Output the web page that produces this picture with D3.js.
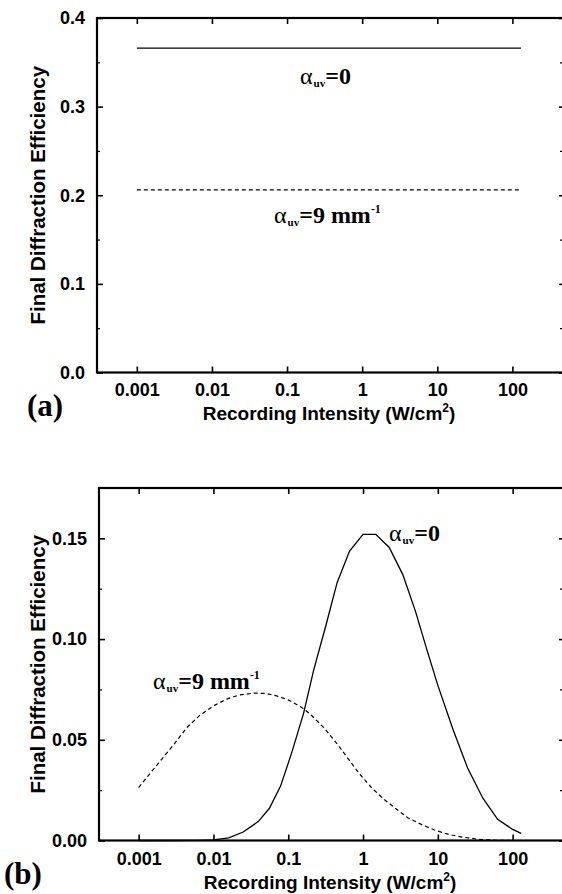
<!DOCTYPE html>
<html><head><meta charset="utf-8">
<script src="https://cdn.jsdelivr.net/npm/d3@7"></script>
<style>body{margin:0;background:#fff}svg{display:block}</style></head>
<body>
<script>
// ---- data ----
const xTickValues = [0.001, 0.01, 0.1, 1, 10, 100];
const xTickLabels = ["0.001", "0.01", "0.1", "1", "10", "100"];

// panel (a)
const aYTicks = [0, 0.1, 0.2, 0.3, 0.4];
const aYTickLabels = ["0.0", "0.1", "0.2", "0.3", "0.4"];
const aYMinor = [0.05, 0.15, 0.25, 0.35];
const aX = [0.001, 0.01, 0.1, 1, 10, 100, 130];
const aSolid = [0.366, 0.366, 0.366, 0.366, 0.366, 0.366, 0.366];
const aDashed = [0.206, 0.206, 0.206, 0.206, 0.206, 0.206, 0.206];

// panel (b)
const bYTicks = [0, 0.05, 0.10, 0.15];
const bYTickLabels = ["0.00", "0.05", "0.10", "0.15"];
const bYMinor = [0.025, 0.075, 0.125];
const bSolidX = [0.001, 0.0025, 0.006, 0.01, 0.016, 0.025, 0.04, 0.056, 0.079, 0.11, 0.16, 0.22, 0.32, 0.45, 0.66, 1.0, 1.48, 2.24, 3.4, 5.0, 7.1, 10, 16, 25, 40, 63, 100, 130];
const bSolidY = [0, 0, 0.0001, 0.0003, 0.0013, 0.0042, 0.0095, 0.016, 0.027, 0.043, 0.063, 0.085, 0.107, 0.128, 0.1437, 0.152, 0.152, 0.1455, 0.132, 0.114, 0.095, 0.077, 0.055, 0.036, 0.021, 0.0105, 0.0055, 0.0035];
const bDashedX = [0.001, 0.0014, 0.002, 0.003, 0.0044, 0.0065, 0.01, 0.015, 0.022, 0.035, 0.05, 0.07, 0.1, 0.15, 0.2, 0.3, 0.45, 0.65, 0.9, 1.3, 1.9, 2.7, 4, 6, 9, 14, 22, 35, 60, 100];
const bDashedY = [0.0263, 0.0330, 0.0400, 0.0480, 0.0560, 0.0620, 0.0668, 0.0702, 0.0722, 0.0732, 0.0730, 0.0718, 0.0698, 0.0662, 0.0625, 0.0560, 0.0480, 0.0400, 0.0330, 0.0262, 0.0205, 0.0160, 0.0112, 0.0080, 0.0052, 0.0030, 0.0016, 0.0006, 0.0001, 0.0];

const svg = d3.select("body").append("svg").attr("width", 562).attr("height", 894);
const SANS = "'Liberation Sans', Arial, sans-serif";
const SERIF = "'Liberation Serif', 'Times New Roman', serif";

function panel(cfg) {
  const x = d3.scaleLog().domain([Math.pow(10, -3.53), Math.pow(10, 2.70)]).range([cfg.left, cfg.right]);
  const y = d3.scaleLinear().domain(cfg.yDomain).range([cfg.bottom, cfg.top]);
  const g = svg.append("g");

  // bottom axis
  const bx = g.append("g").attr("transform", `translate(0,${cfg.bottom})`)
    .call(d3.axisBottom(x).tickValues(xTickValues).tickSize(-6).tickFormat((d, i) => xTickLabels[i]).tickPadding(0));
  bx.select(".domain").remove();
  bx.selectAll("line").attr("stroke-width", 1.6);
  bx.selectAll("text").attr("y", cfg.xLabelOffset).attr("dy", 0)
    .attr("font-family", SANS).attr("font-weight", "bold").attr("font-size", 18).attr("fill", "#000");
  // top axis
  const tx = g.append("g").attr("transform", `translate(0,${cfg.top})`)
    .call(d3.axisTop(x).tickValues(xTickValues).tickSize(-6).tickFormat(""));
  tx.select(".domain").remove();
  tx.selectAll("line").attr("stroke-width", 1.6);

  // left axis
  const ly = g.append("g").attr("transform", `translate(${cfg.left},0)`)
    .call(d3.axisLeft(y).tickValues(cfg.yTicks).tickSize(-6).tickFormat((d, i) => cfg.yLabels[i]).tickPadding(12));
  ly.select(".domain").remove();
  ly.selectAll("line").attr("stroke-width", 1.6);
  ly.selectAll("text").attr("font-family", SANS).attr("font-weight", "bold").attr("font-size", 18).attr("fill", "#000");
  const lym = g.append("g").attr("transform", `translate(${cfg.left},0)`)
    .call(d3.axisLeft(y).tickValues(cfg.yMinor).tickSize(-3).tickFormat(""));
  lym.select(".domain").remove();
  lym.selectAll("line").attr("stroke-width", 1.2);
  // right axis
  const ry = g.append("g").attr("transform", `translate(${cfg.right},0)`)
    .call(d3.axisRight(y).tickValues(cfg.yTicks).tickSize(-6).tickFormat(""));
  ry.select(".domain").remove();
  ry.selectAll("line").attr("stroke-width", 1.6);
  const rym = g.append("g").attr("transform", `translate(${cfg.right},0)`)
    .call(d3.axisRight(y).tickValues(cfg.yMinor).tickSize(-5).tickFormat(""));
  rym.select(".domain").remove();
  rym.selectAll("line").attr("stroke-width", 1.2);

  // frame
  g.append("rect").attr("x", cfg.left).attr("y", cfg.top)
    .attr("width", cfg.right - cfg.left).attr("height", cfg.bottom - cfg.top)
    .attr("fill", "none").attr("stroke", "#000").attr("stroke-width", 2.2);

  // lines
  const line = d3.line().x(d => x(d[0])).y(d => y(d[1]));
  g.append("path").datum(cfg.solidX.map((v, i) => [v, cfg.solidY[i]]))
    .attr("d", line).attr("fill", "none").attr("stroke", "#000").attr("stroke-width", 1.3);
  g.append("path").datum(cfg.dashX.map((v, i) => [v, cfg.dashY[i]]))
    .attr("d", line).attr("fill", "none").attr("stroke", "#000").attr("stroke-width", 1.2)
    .attr("stroke-dasharray", "4,3");

  // axis titles
  g.append("text").attr("x", (cfg.left + cfg.right) / 2 - 2).attr("y", cfg.xTitleY)
    .attr("text-anchor", "middle").attr("font-family", SANS).attr("font-weight", "bold").attr("font-size", 19)
    .call(t => {
      t.append("tspan").text("Recording Intensity (W/cm");
      t.append("tspan").text("2").attr("font-size", 12).attr("dy", -8);
      t.append("tspan").text(")").attr("dy", 8);
    });
  g.append("text").attr("transform", `translate(${cfg.yTitleX},${(cfg.top + cfg.bottom) / 2}) rotate(-90)`)
    .attr("text-anchor", "middle").attr("font-family", SANS).attr("font-weight", "bold").attr("font-size", 20.5)
    .text("Final Diffraction Efficiency");

  // panel letter
  g.append("text").attr("x", cfg.letterX).attr("y", cfg.letterY)
    .attr("font-family", SERIF).attr("font-weight", "bold").attr("font-size", 31).text(cfg.letter);

  // annotations
  function alpha(xp, yp, tail, sup) {
    const t = g.append("text").attr("x", xp).attr("y", yp).attr("font-family", SERIF).attr("font-size", 24);
    t.append("tspan").text("α");
    t.append("tspan").text("uv").attr("font-size", 11).attr("font-weight", "bold").attr("dy", 3).attr("dx", 1);
    t.append("tspan").text(tail).attr("font-weight", "bold").attr("dy", -3);
    if (sup) t.append("tspan").text(sup).attr("font-size", 12).attr("font-weight", "bold").attr("dy", -10);
  }
  cfg.ann.forEach(a => alpha(a[0], a[1], a[2], a[3]));
}

panel({
  left: 97, right: 565, top: 18, bottom: 372.5, yDomain: [0, 0.4],
  yTicks: aYTicks, yLabels: aYTickLabels, yMinor: aYMinor,
  solidX: aX, solidY: aSolid, dashX: aX, dashY: aDashed,
  xLabelOffset: 23.5, xTitleY: 420, yTitleX: 45, letter: "(a)", letterX: 27, letterY: 416,
  ann: [[300, 84, "=0", null], [274, 223, "=9 mm", "-1"]]
});
panel({
  left: 99, right: 565, top: 488, bottom: 840.5, yDomain: [0, 0.175],
  yTicks: bYTicks, yLabels: bYTickLabels, yMinor: bYMinor,
  solidX: bSolidX, solidY: bSolidY, dashX: bDashedX, dashY: bDashedY,
  xLabelOffset: 24.5, xTitleY: 889, yTitleX: 45, letter: "(b)", letterX: 4, letterY: 884,
  ann: [[389, 541, "=0", null], [153, 689, "=9 mm", "-1"]]
});
</script>
</body></html>
